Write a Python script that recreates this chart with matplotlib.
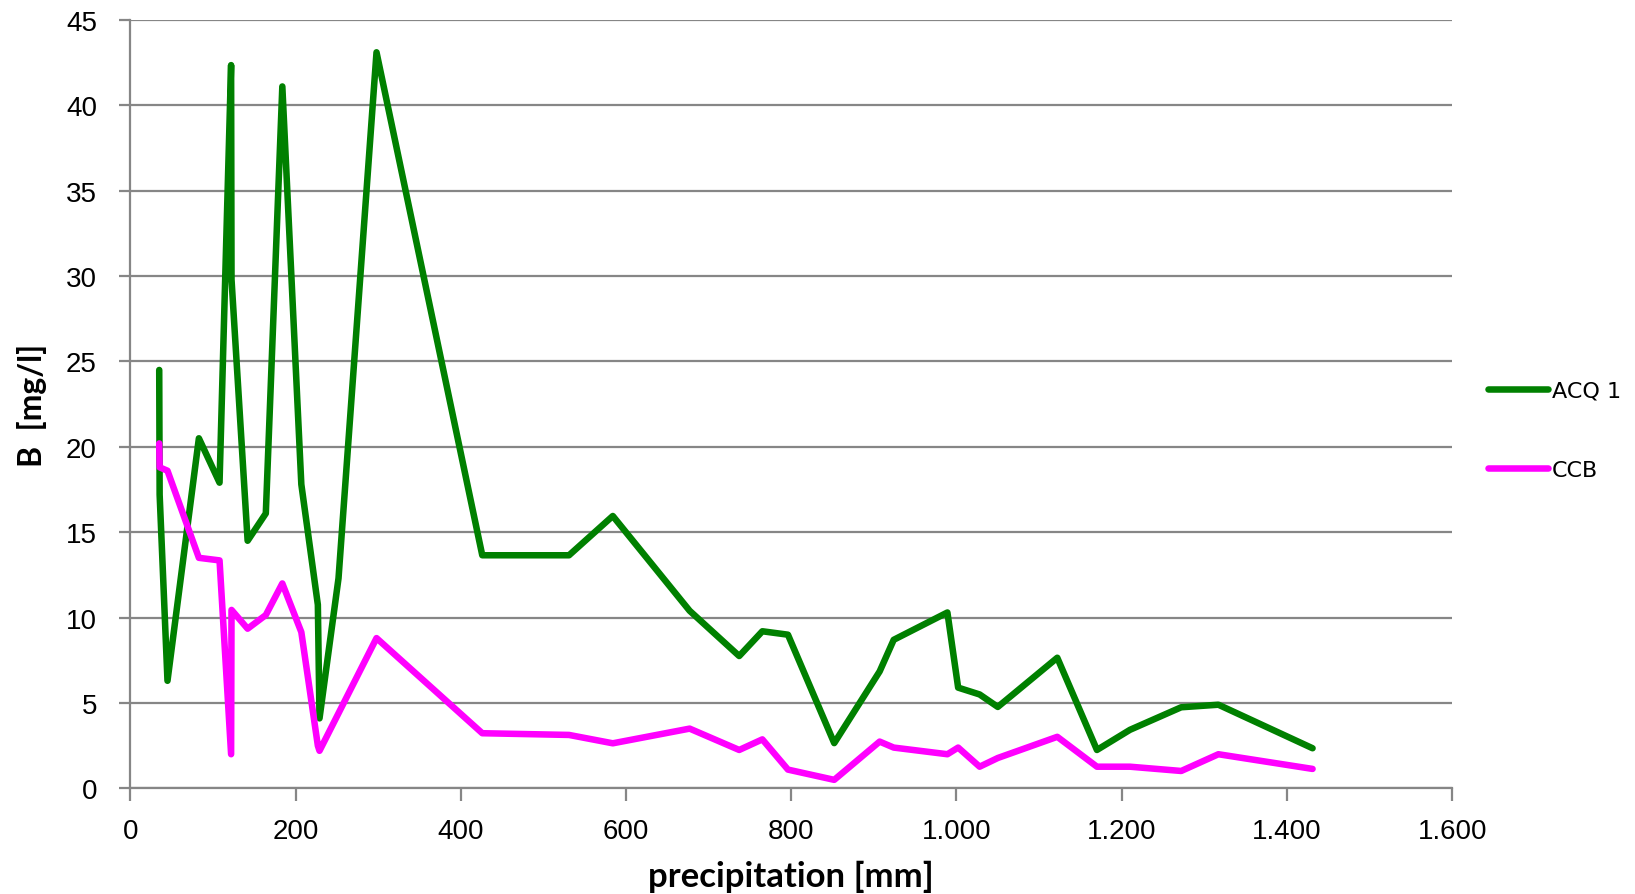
import matplotlib
matplotlib.use("Agg")
import matplotlib.pyplot as plt
from matplotlib.ticker import FuncFormatter, MultipleLocator

# precipitation [mm] and B [mg/l]
precip = [35, 35.5, 45, 83, 108, 122, 122.5, 142, 164, 184, 207, 227, 229, 252, 298,
          426, 531, 584, 677, 737, 765, 796, 852, 907, 924, 989, 1002, 1028, 1050,
          1122, 1170, 1210, 1272, 1317, 1431]
acq1 = [24.5, 17.2, 6.3, 20.5, 17.9, 42.35, 29.8, 14.5, 16.1, 41.1, 17.8, 10.75, 4.1, 12.3, 43.1,
        13.65, 13.65, 15.95, 10.4, 7.75, 9.2, 9.0, 2.65, 6.85, 8.7, 10.3, 5.9, 5.5, 4.77,
        7.65, 2.25, 3.43, 4.75, 4.9, 2.35]
ccb = [20.2, 18.8, 18.6, 13.5, 13.35, 2.0, 10.45, 9.35, 10.15, 12.0, 9.15, 2.5, 2.2, 4.4, 8.8,
       3.23, 3.13, 2.64, 3.5, 2.25, 2.87, 1.1, 0.5, 2.74, 2.39, 2.0, 2.39, 1.27, 1.78,
       3.02, 1.27, 1.27, 1.02, 2.0, 1.14]

grey = '#868686'

fig = plt.figure(figsize=(16.35, 8.95), dpi=100)
ax = fig.add_axes([0.0797, 0.118, 0.8085, 0.8587])

line_kw = dict(linewidth=4.7, solid_capstyle='round', solid_joinstyle='round')
ax.plot(precip, acq1, color='#008000', label='ACQ 1', **line_kw)
ax.plot(precip, ccb, color='#ff00ff', label='CCB', **line_kw)

ax.set_xlim(0, 1600)
ax.set_ylim(0, 45)
ax.xaxis.set_major_locator(MultipleLocator(200))
ax.yaxis.set_major_locator(MultipleLocator(5))
ax.xaxis.set_major_formatter(FuncFormatter(lambda v, p: f'{int(v):,}'.replace(',', '.')))

ax.grid(axis='y', color=grey, linewidth=1.6)
ax.set_axisbelow(True)
for s in ['top', 'right']:
    ax.spines[s].set_visible(False)
for s in ['left', 'bottom']:
    ax.spines[s].set_color(grey)
    ax.spines[s].set_linewidth(1.6)
ax.tick_params(axis='both', colors=grey, width=1.6, labelcolor='black', labelsize=20)
ax.tick_params(axis='x', length=9, pad=12)
ax.tick_params(axis='y', length=8, pad=16)
for lab in ax.get_xticklabels() + ax.get_yticklabels():
    lab.set_family('Liberation Sans')

ax.set_xlabel('precipitation [mm]', fontsize=25, fontweight='bold', family='Lato')
ax.set_ylabel('B  [mg/l]', fontsize=23, fontweight='bold', family='Lato')
ax.xaxis.set_label_coords(0.5, -0.093)
ax.yaxis.label.set_verticalalignment('center')
ax.yaxis.set_label_coords(-0.074, 0.5)

fig.legend(loc='center left', bbox_to_anchor=(0.898, 0.518), frameon=False, fontsize=16,
           handlelength=2.7, handletextpad=0.15, labelspacing=2.67)

fig.savefig('out.png', dpi=100)
